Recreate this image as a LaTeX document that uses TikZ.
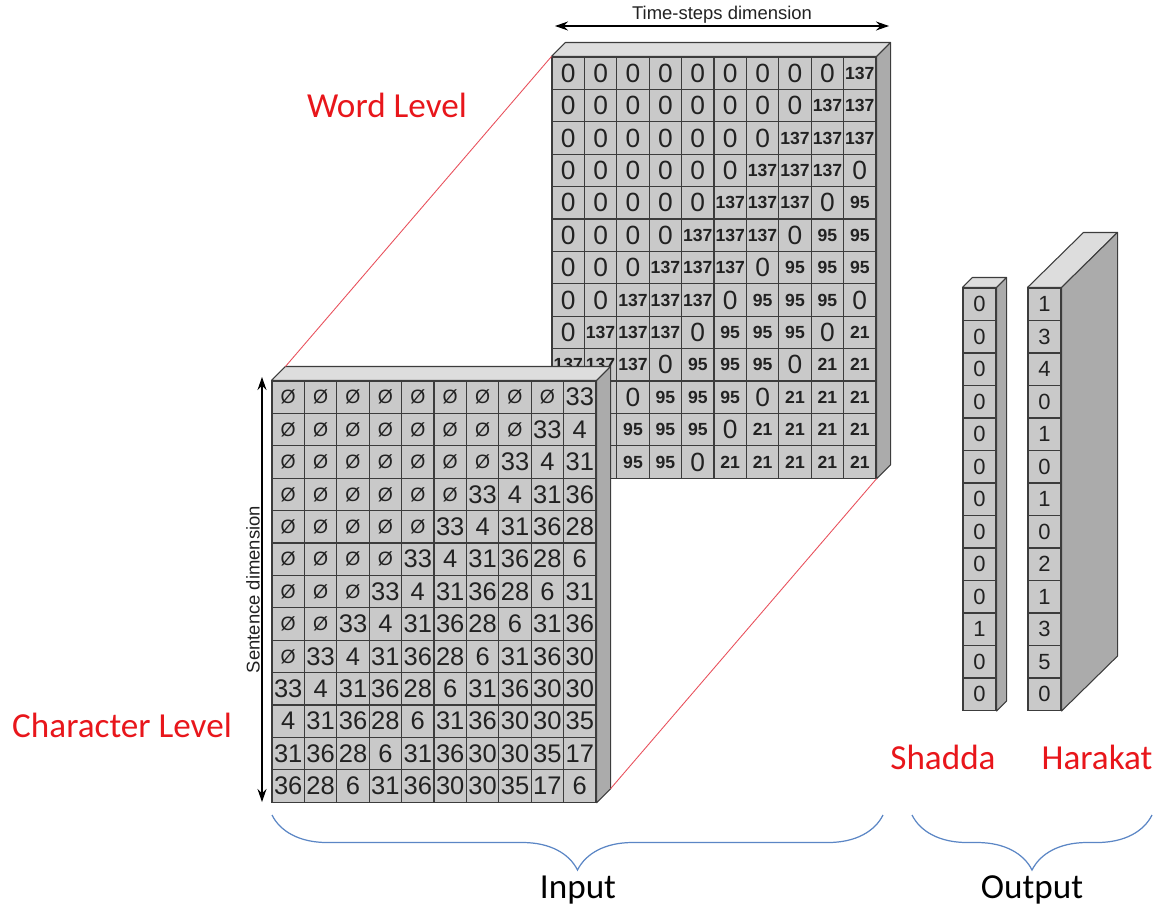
\documentclass[tikz,border=0pt]{standalone}
\usepackage{fontspec}
\setmainfont{Liberation Sans}
\newfontfamily\calibri{Carlito}
\usetikzlibrary{arrows.meta,calc,decorations.pathreplacing}
\definecolor{cellfill} {HTML}{C9C9C9}
\definecolor{topfill}  {HTML}{DDDDDD}
\definecolor{sidefill} {HTML}{ABABAB}
\definecolor{edge}     {HTML}{3C3C3C}
\definecolor{ink}      {HTML}{222222}
\definecolor{labelred} {HTML}{E8161B}
\definecolor{linkred}  {HTML}{E8505C}
\definecolor{braceblue}{HTML}{5B86C5}
\newcommand{\zerofont}{\fontsize{15}{15}\selectfont}
\newcommand{\numfont}{\fontsize{10}{10}\selectfont\bfseries}
\newcommand{\charfont}{\fontsize{14.5}{15}\selectfont}
\newcommand{\padfont}{\fontsize{11}{11}\selectfont}
% top and side faces of a block of cells: prefix, last row, last column, depth dx, dy (px)
\newcommand{\drawdepth}[5]{%
  \draw[face, fill=topfill] (#1-1-1.north west) -- ++(#4,-#5)
    -- ($(#1-1-#3.north east)+(#4,-#5)$) -- (#1-1-#3.north east) -- cycle;
  \draw[face, fill=sidefill] (#1-1-#3.north east) -- ++(#4,-#5)
    -- ($(#1-#2-#3.south east)+(#4,-#5)$) -- (#1-#2-#3.south east) -- cycle;}
\tikzset{
  cell/.style    ={draw=edge, fill=cellfill, line width=0.6pt, text=ink,
                   minimum width=6.48mm, minimum height=6.48mm, inner sep=0pt},
  ocell/.style   ={cell, minimum width=6.6mm, minimum height=6.5mm,
                   font=\fontsize{12.5}{13}\selectfont},
  face/.style    ={draw=edge, line width=0.6pt, line join=round},
  link/.style    ={draw=linkred, line width=0.5pt},
  dimarrow/.style={{Stealth[length=2.6mm,width=1.8mm]}-{Stealth[length=2.6mm,width=1.8mm]},
                   draw=black, line width=0.6pt},
  dimtext/.style ={font=\fontsize{10.5}{11}\selectfont, text=ink, inner sep=1pt},
  brace/.style   ={decorate, decoration={brace, amplitude=11mm, mirror},
                   draw=braceblue, line width=0.7pt},
  lbl/.style     ={font=\calibri\fontsize{20}{24}\selectfont, inner sep=0pt},
  redlbl/.style  ={lbl, text=labelred}
}

\begin{document}
\begin{tikzpicture}[x=0.2mm, y=-0.2mm]
\useasboundingbox (0,0) rectangle (1162,913);

% word level block (behind); cells under the front block stay blank
\foreach \r in {1,...,13}
  \foreach \c in {1,...,10} {
    \pgfmathtruncatemacro{\k}{\c+\r-10}
    \ifnum\k<1 \def\v{0}\else
      \pgfmathtruncatemacro{\v}{{137,137,137,0,95,95,95,0,21,21,21,21,21}[\k-1]}\fi
    \pgfmathtruncatemacro{\hid}{(\r>10)&&(\c<3)}
    \node[cell] (w-\r-\c) at ({552+32.4*(\c-0.5)},{57+32.4*(\r-0.5)})
      {\ifnum\hid=0 \ifnum\v=0 \zerofont 0\else\numfont\v\fi\fi};
  }
\drawdepth{w}{13}{10}{14}{14}

% character level block (front)
\foreach \r in {1,...,13}
  \foreach \c in {1,...,10} {
    \pgfmathtruncatemacro{\k}{\c+\r-10}
    \ifnum\k<1 \def\v{\padfont Ø}\else
      \pgfmathtruncatemacro{\n}{{33,4,31,36,28,6,31,36,30,30,35,17,6}[\k-1]}
      \edef\v{\noexpand\charfont\n}\fi
    \node[cell] (c-\r-\c) at ({272+32.4*(\c-0.5)},{381+32.4*(\r-0.5)}) {\v};
  }
\drawdepth{c}{13}{10}{14}{14}

% links between the two levels
\coordinate (c-back-tl) at ($(c-1-1.north west)+(14,-14)$);
\coordinate (c-back-br) at ($(c-13-10.south east)+(14,-14)$);
\draw[link] (c-back-tl) -- (w-1-1.north west);
\draw[link] (c-back-br) -- (w-13-10.south east);

% output columns
\foreach \v [count=\r] in {0,0,0,0,0,0,0,0,0,0,1,0,0}
  \node[ocell] (s-\r-1) at (979.5,{288+32.5*(\r-0.5)}) {\v};
\drawdepth{s}{13}{1}{10}{10}
\foreach \v [count=\r] in {1,3,4,0,1,0,1,0,2,1,3,5,0}
  \node[ocell] (h-\r-1) at (1044.5,{288+32.5*(\r-0.5)}) {\v};
\drawdepth{h}{13}{1}{56}{55}

% dimension arrows
\coordinate (ts-l) at (555,26);
\coordinate (ts-r) at (889,26);
\draw[dimarrow] (ts-l) -- (ts-r)
  node[midway, above=0pt, dimtext] {Time-steps dimension};
\coordinate (sd-b) at (262,802);
\coordinate (sd-t) at (262,377);
\draw[dimarrow] (sd-b) -- (sd-t)
  node[midway, sloped, above=0pt, dimtext] {Sentence dimension};

% labels
\node[redlbl] (word)  at (387,105)  {Word Level};
\node[redlbl] (char)  at (122,725)  {Character Level};
\node[redlbl] (shad)  at (943,757)  {Shadda};
\node[redlbl] (hark)  at (1097,757) {Harakat};

% braces
\coordinate (in-l)  at (272,815);
\coordinate (in-r)  at (883,815);
\coordinate (out-l) at (912,815);
\coordinate (out-r) at (1152,815);
\draw[brace] (in-l) -- (in-r);
\draw[brace] (out-l) -- (out-r);
\node[lbl] (input)  at (578,890)  {Input};
\node[lbl] (output) at (1032,890) {Output};
\end{tikzpicture}
\end{document}
